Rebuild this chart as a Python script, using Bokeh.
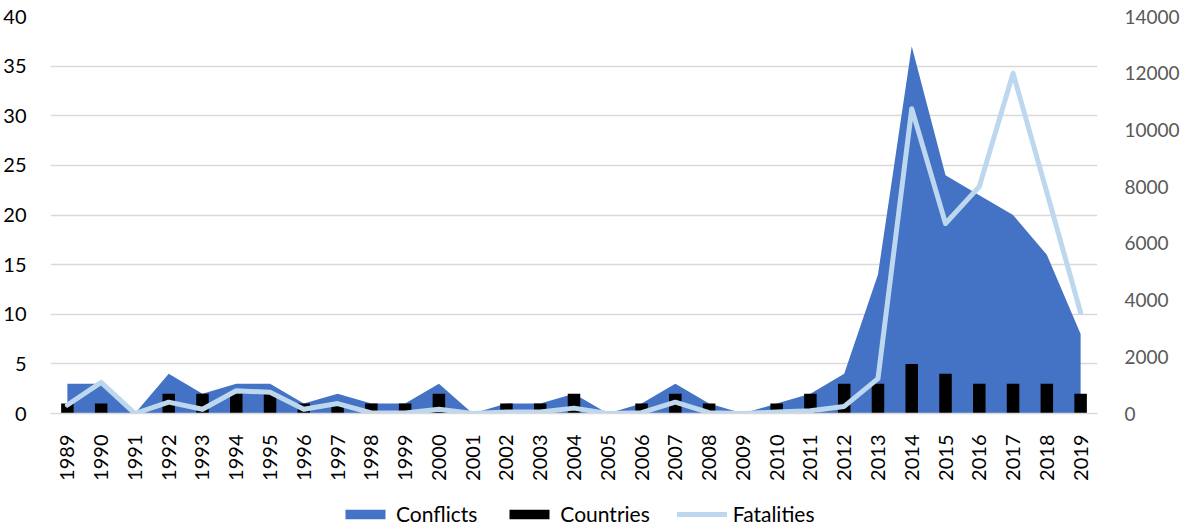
import math
from bokeh.plotting import figure
from bokeh.layouts import column
from bokeh.models import (FactorRange, Range1d, LinearAxis, FixedTicker, Legend,
                          LegendItem, ColumnDataSource)
from bokeh.embed import file_html
from bokeh.resources import INLINE

years = [str(y) for y in range(1989, 2020)]
conflicts = [3, 3, 0, 4, 2, 3, 3, 1, 2, 1, 1, 3, 0, 1, 1, 2, 0, 1, 3, 1, 0, 1, 2, 4,
             14, 37, 24, 22, 20, 16, 8]
countries = [1, 1, 0, 2, 2, 2, 2, 1, 1, 1, 1, 2, 0, 1, 1, 2, 0, 1, 2, 1, 0, 1, 2, 3,
             3, 5, 4, 3, 3, 3, 2]
fatalities = [300, 1100, 0, 400, 150, 800, 750, 150, 350, 20, 20, 150, 0, 50, 50, 190,
              0, 30, 400, 30, 0, 50, 100, 250, 1230, 10750, 6700, 8000, 12000, 7800, 3560]
left_ticks = [0, 5, 10, 15, 20, 25, 30, 35, 40]
right_ticks = [0, 2000, 4000, 6000, 8000, 10000, 12000, 14000]

FONT = "Lato"
AREA_C = "#4472C4"
BAR_C = "#000000"
LINE_C = "#BDD7EE"

src = ColumnDataSource(dict(year=years, conflicts=conflicts, countries=countries,
                            fatalities=fatalities, zero=[0] * len(years)))


def draw_series(fig, bar_width=0.37, fat_range=None):
    a = fig.varea(x="year", y1="zero", y2="conflicts", source=src, fill_color=AREA_C)
    b = fig.vbar(x="year", top="countries", width=bar_width, source=src,
                 fill_color=BAR_C, line_color=None)
    kw = {"y_range_name": fat_range} if fat_range else {}
    l = fig.line(x="year", y="fatalities", source=src, line_color=LINE_C, line_width=5,
                 line_cap="round", line_join="round", **kw)
    return a, b, l


p = figure(width=1182, height=500, output_backend="svg", toolbar_location=None,
           x_range=FactorRange(factors=years, range_padding=0),
           y_range=Range1d(0, 40),
           min_border_left=50, min_border_right=85, min_border_top=16,
           min_border_bottom=87)
p.outline_line_color = None
p.extra_y_ranges = {"fat": Range1d(0, 14000)}

draw_series(p, fat_range="fat")

# left axis
ya = p.yaxis[0]
ya.ticker = FixedTicker(ticks=left_ticks)
ya.axis_line_color = None
ya.major_tick_line_color = None
ya.minor_tick_line_color = None
ya.major_label_text_font = FONT
ya.major_label_text_font_size = "20px"
ya.major_label_text_color = "#000000"
ya.major_label_standoff = 18

# right axis
ra = LinearAxis(y_range_name="fat", ticker=FixedTicker(ticks=right_ticks))
ra.axis_line_color = None
ra.major_tick_line_color = None
ra.minor_tick_line_color = None
ra.major_label_text_font = FONT
ra.major_label_text_font_size = "19px"
ra.major_label_text_color = "#595959"
ra.major_label_standoff = 21
p.add_layout(ra, "right")

# x axis
xa = p.xaxis[0]
xa.axis_line_color = "#D9D9D9"
xa.axis_line_width = 1.5
xa.major_tick_line_color = None
xa.minor_tick_line_color = None
xa.major_label_orientation = math.pi / 2
xa.major_label_text_font = FONT
xa.major_label_text_font_size = "20px"
xa.major_label_text_color = "#000000"
xa.major_label_standoff = 15

p.xgrid.grid_line_color = None
p.ygrid.grid_line_color = "#D9D9D9"
p.ygrid.grid_line_width = 1.5
p.ygrid.ticker = FixedTicker(ticks=left_ticks)

# legend strip: same series in a figure whose y window shows none of them
lg = figure(width=1182, height=28, output_backend="svg", toolbar_location=None,
            x_axis_location=None, y_axis_location=None,
            min_border_left=50, min_border_right=85, min_border_top=0,
            min_border_bottom=0,
            x_range=FactorRange(factors=years, range_padding=0),
            y_range=Range1d(-1e6, -1e6 + 1))
lg.outline_line_color = None
lg.grid.visible = False
la, lb, ll = draw_series(lg, bar_width=0)

legend = Legend(items=[LegendItem(label="Conflicts", renderers=[la]),
                       LegendItem(label="Countries", renderers=[lb]),
                       LegendItem(label="Fatalities", renderers=[ll])],
                orientation="horizontal", location=(290, 2))
legend.border_line_color = None
legend.background_fill_alpha = 0
legend.padding = 0
legend.margin = 0
legend.spacing = 27
legend.glyph_width = 50
legend.glyph_height = 12
legend.label_standoff = 6
legend.label_text_font = FONT
legend.label_text_font_size = "21px"
legend.label_text_color = "#000000"
lg.add_layout(legend, "center")

layout = column(p, lg, spacing=0)
open("out.html", "w").write(file_html(layout, INLINE))
